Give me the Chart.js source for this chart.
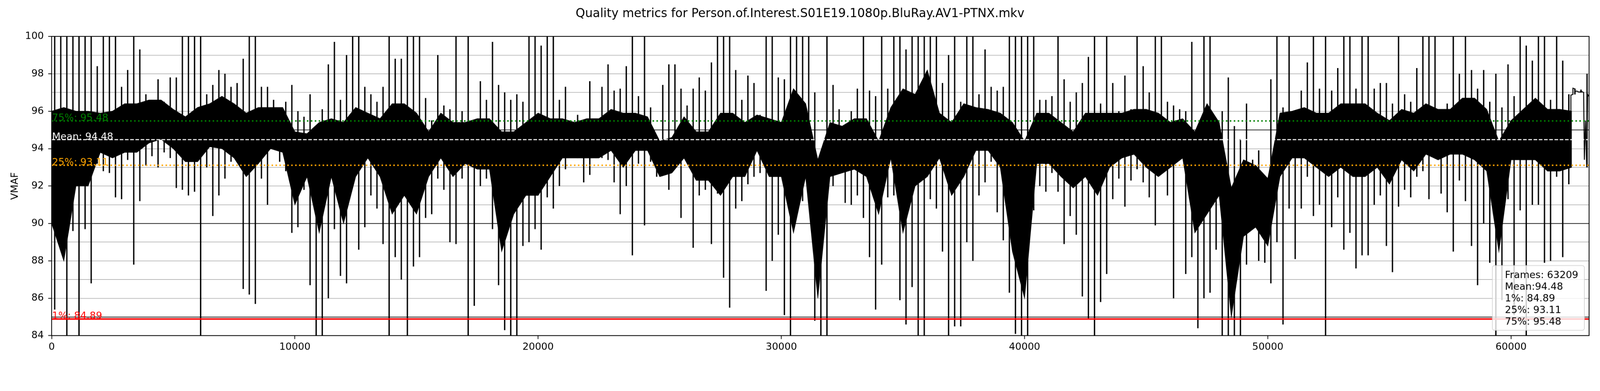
<!DOCTYPE html>
<html>
<head>
<meta charset="utf-8">
<style>html,body{margin:0;padding:0;background:#fff;overflow:hidden}#wrap{width:4400px;height:1000px;transform-origin:0 0}</style>
<script src="https://cdn.jsdelivr.net/npm/chart.js@4.4.1/dist/chart.umd.min.js"></script>
</head>
<body>
<div id="wrap"><canvas id="c" width="4400" height="1000"></canvas></div>
<script>
// ---------------- data ----------------
const TITLE = 'Quality metrics for Person.of.Interest.S01E19.1080p.BluRay.AV1-PTNX.mkv';
const TOTAL_FRAMES = 63209;
const BIN = 250;           // frames per envelope bin
// highest / lowest VMAF reached inside each 250-frame bin
const peakHi = [
  100, 100, 100, 100, 100, 100, 100, 98.4, 100, 100,
  100, 97.3, 98.2, 100, 99.3, 96.9, 96.6, 97.7, 96.5, 97.8,
  97.8, 100, 100, 100, 100, 96.9, 97.4, 98.2, 98, 97.3,
  97.5, 98.8, 100, 100, 97.3, 97.3, 96.6, 96.2, 96.5, 97.4,
  96, 95.7, 96.9, 94, 96.1, 98.5, 99.7, 96.6, 99, 100,
  100, 97.3, 96.9, 96.5, 97.3, 100, 98.8, 98.8, 100, 100,
  100, 96.7, 95.5, 99, 96.3, 96.1, 100, 96, 100, 95.3,
  97.6, 96.6, 99.7, 97.4, 97, 96.6, 96.9, 96.5, 100, 100,
  99.5, 100, 100, 96.6, 97.3, 95.1, 95.8, 95.5, 97.6, 95,
  97.3, 98.5, 97.1, 97.2, 98.4, 100, 96.8, 100, 96.2, 94.2,
  97.4, 98.5, 98.5, 97.2, 96.3, 97.2, 97.8, 97.1, 98.6, 100,
  100, 100, 98.2, 96.6, 97.9, 97.5, 95.8, 100, 100, 97.8,
  97.7, 100, 100, 100, 100, 97, 92.8, 100, 97.4, 96.1,
  95, 96, 97.2, 100, 97.1, 96.8, 100, 97.2, 100, 100,
  99.3, 100, 100, 100, 100, 100, 97.5, 99, 100, 96.5,
  100, 100, 96.9, 99.3, 97.3, 97.1, 97.3, 100, 100, 100,
  100, 100, 96.6, 96.6, 96.8, 100, 97.7, 96.5, 97, 97.5,
  98.9, 100, 96.4, 100, 97.5, 96, 97.9, 96.1, 100, 98.4,
  97, 100, 100, 96.5, 96.3, 96.1, 96, 99.7, 95.1, 100,
  100, 95.2, 96, 97.8, 95.2, 94.5, 96.4, 93.4, 93.9, 92.1,
  97.7, 100, 96.2, 100, 95.9, 97.1, 98.6, 100, 97.2, 100,
  97.1, 98.3, 100, 100, 97.2, 100, 100, 97.2, 97.5, 97.5,
  96.4, 100, 96.9, 96.5, 98.3, 100, 100, 100, 96, 96.4,
  100, 98, 100, 98.2, 97.2, 98.2, 96.5, 98, 96.2, 98.5,
  96.8, 100, 99.5, 98.7, 100, 100, 96.6, 100, 98.7, 96.9,
  97.2, 97.15, 98
];
const peakLo = [
  85.4, 88.9, 83.5, 89.6, 83, 89.7, 86.8, 93.2, 92.8, 92.7,
  91.4, 91.3, 93.4, 87.8, 91.2, 93.1, 93.6, 93.0, 93.8, 93.5,
  91.9, 91.8, 91.5, 91.7, 83, 93, 90.4, 91.5, 92.4, 93.3,
  93.3, 86.5, 86.2, 85.7, 92.4, 91, 94, 93.3, 92.8, 89.5,
  89.8, 91.8, 86.7, 83, 83, 86, 89.7, 87.2, 86.8, 92.4,
  88.6, 89.8, 91.5, 90.8, 88.9, 83, 88.2, 87, 83, 87.7,
  88.2, 90.3, 90.5, 92.4, 91.8, 89, 88.9, 92.4, 83.5, 85.6,
  92, 92.4, 89.7, 86.7, 84.3, 83, 83, 88.8, 89, 89.7,
  88.6, 91.4, 90.8, 92, 92.9, 93.9, 93.5, 92.2, 92.6, 93.5,
  93.5, 93.4, 92.2, 90.5, 92, 88.3, 93.2, 89.9, 93.3, 92.5,
  92.6, 91.8, 93, 90.3, 93.9, 88.7, 91.5, 91.8, 88.9, 91.6,
  87.1, 85.5, 90.8, 91.2, 92.1, 92.5, 92.7, 86.4, 88, 89.4,
  85.1, 83, 90.5, 91.2, 91.5, 84.8, 83, 83, 92, 93.6,
  91.1, 91, 91.5, 90.3, 88.2, 85.4, 87.8, 91.4, 91.5, 85.9,
  84.6, 86.6, 83, 83, 91.3, 90.8, 88.5, 83, 84.5, 84.5,
  89, 88, 91.5, 92.2, 93.3, 90.6, 89.1, 86.3, 84.1, 83,
  83, 90.7, 92, 91.7, 92.7, 91.7, 88.9, 90.4, 89.4, 86.1,
  84.9, 83, 85.8, 87.3, 91.3, 92.4, 90.9, 92.3, 92.9, 92.2,
  91.4, 89.9, 92.7, 91.5, 86, 93.5, 87.3, 88.2, 84.4, 86,
  86.3, 88.6, 83, 83, 83, 83, 87.8, 90, 88, 87.9,
  86.8, 89, 84.6, 90.8, 88.1, 90.8, 92.5, 90.4, 91, 83,
  89.8, 91.4, 88.6, 89.5, 87.6, 88.3, 88.3, 91, 91.5, 88.8,
  87.4, 90.9, 91.8, 91.4, 92.5, 92.8, 91.3, 93.5, 91.6, 90.6,
  88.5, 92.3, 91.2, 88.8, 86.7, 90, 87.9, 83, 85.9, 91.3,
  85.1, 90.7, 83, 91, 91, 87.9, 88, 92.5, 88.2, 92.1,
  96.9, 97, 93
];
const CORE_STEP = 500;     // frames between dense-band samples
// upper / lower edge of the dense (mostly black) band, every 500 frames
const coreHi = [
  96, 96.2, 96, 96, 95.9, 96, 96.4, 96.4, 96.6, 96.6,
  96.1, 95.7, 96.2, 96.4, 96.8, 96.4, 95.9, 96.2, 96.2, 96.2,
  94.9, 94.8, 95.4, 95.6, 95.4, 96.2, 95.9, 95.6, 96.4, 96.4,
  95.9, 94.9, 95.9, 95.4, 95.4, 95.6, 95.6, 94.9, 94.9, 95.4,
  95.9, 95.6, 95.6, 95.4, 95.6, 95.6, 96.1, 95.9, 95.9, 95.7,
  94.4, 94.6, 95.7, 94.9, 94.9, 95.9, 95.9, 95.4, 95.8, 95.6,
  95.4, 97.2, 96.4, 93.4, 95.4, 95.2, 95.6, 95.6, 94.4, 96.2,
  97.2, 96.9, 98.2, 95.9, 95.4, 96.4, 96.2, 96.1, 95.9, 95.4,
  94.4, 95.9, 95.9, 95.4, 94.9, 95.9, 95.9, 95.9, 95.9, 96.1,
  96.1, 95.9, 95.4, 95.6, 94.9, 96.4, 95.4, 91.9, 93.4, 93.1,
  92.4, 95.9, 96, 96.2, 95.9, 95.9, 96.4, 96.4, 96.4, 95.9,
  95.5, 96.1, 95.9, 96.4, 96.1, 96.1, 96.7, 96.7, 96.1, 94.4,
  95.5, 96.1, 96.7, 96.1, 96.1, 96.0, null
];
const coreLo = [
  90, 88, 92, 92, 93.8, 93.5, 93.8, 93.8, 94.3, 94.5,
  94, 93.3, 93.3, 94.1, 94, 93.5, 92.5, 93.2, 94, 93.8,
  91, 92.5, 89.5, 92.5, 90, 92.5, 93.5, 92.5, 90.5, 91.5,
  90.5, 92.5, 93.5, 92.5, 93.2, 92.9, 92.9, 88.5, 90.5, 91.5,
  91.5, 92.5, 93.5, 93.5, 93.5, 93.5, 93.9, 93, 93.9, 93.9,
  92.5, 92.7, 93.5, 92.3, 92.3, 91.5, 92.5, 92.5, 93.9, 92.5,
  92.5, 89.5, 92.5, 86, 92.5, 92.7, 92.9, 92.5, 90.5, 93.5,
  89.5, 92, 92.5, 93.5, 91.5, 92.5, 93.9, 93.9, 93, 88.5,
  86, 93.2, 93.2, 92.5, 91.9, 92.5, 91.5, 93, 93.5, 93.7,
  93, 92.5, 93, 93.5, 89.5, 90.5, 91.5, 85, 89.3, 89.8,
  88.8, 92.5, 93.5, 93.5, 93, 92.5, 93, 92.5, 92.5, 93,
  92.1, 93.4, 92.8, 93.7, 93.4, 93.7, 93.7, 93.4, 92.8, 88.5,
  93.4, 93.4, 93.4, 92.8, 92.8, 93.0, null
];
// the calm stretch near the end of the episode (frame, VMAF)
const tailFrames = [62000, 62250, 62400, 62450, 62460, 62540, 62545, 62615, 62625, 62700, 62800, 62900, 62985, 63015, 63060, 63110, 63150, 63190];
const tailValues = [95.0, 94.6, 95.4, 95.8, 96.86, 96.9, 97.23, 97.2, 97.05, 97.08, 97.02, 97.06, 97.0, 93.4, 95.5, 93.0, 96.9, 96.8];
// summary statistics
const statNames  = ['1%', '25%', 'Mean', '75%'];
const statValues = [84.89, 93.11, 94.48, 95.48];
// axis ticks
const xTicks = [0, 10000, 20000, 30000, 40000, 50000, 60000];
const yTicks = [84, 86, 88, 90, 92, 94, 96, 98, 100];

// ---------------- page scale (map 4400 design px to the real viewport) ----------------
(function () {
  const s = (window.innerWidth || 4400) / 4400;
  if (Math.abs(s - 1) > 0.001) document.getElementById('wrap').style.transform = 'scale(' + s + ')';
})();

// ---------------- styling ----------------
const FONT = '"DejaVu Sans", "Liberation Sans", sans-serif';
const statColors = ['#ff0000', '#ffa500', '#ffffff', '#008000'];
const statWidths = [4.3, 4.1, 2.7, 4.1];
const statDash   = [[], [4.1, 6.7], [10, 4.4], [4.1, 6.7]];

// one vertical stroke per bin spanning its low..high range
const spikes = peakHi.map((h, i) => ({ x: i * BIN + BIN / 2, y: [peakLo[i], h] }));
const coreHiPts = coreHi.map((v, i) => ({ x: i * CORE_STEP, y: v }));
const coreLoPts = coreLo.map((v, i) => ({ x: i * CORE_STEP, y: v }));
const tailPts = tailFrames.map((f, i) => ({ x: f, y: tailValues[i] }));

const statSets = statValues.map((v, i) => ({
  type: 'line',
  label: statNames[i],
  data: [{ x: 0, y: v }, { x: TOTAL_FRAMES, y: v }],
  borderColor: statColors[i],
  borderWidth: statWidths[i],
  borderDash: statDash[i],
  borderCapStyle: 'butt',
  pointRadius: 0,
  fill: false,
  order: 1,
  clip: 0
}));

const overlay = {
  id: 'overlay',
  afterDatasetsDraw(chart) {
    const { ctx, chartArea: a, scales: { x, y } } = chart;
    ctx.save();
    // inline stat labels
    ctx.font = '27px ' + FONT;
    ctx.textAlign = 'left';
    ctx.textBaseline = 'alphabetic';
    [3, 2, 1, 0].forEach(i => {
      ctx.fillStyle = statColors[i];
      ctx.fillText(statNames[i] + ': ' + statValues[i].toFixed(2), x.getPixelForValue(0) + 1, y.getPixelForValue(statValues[i]));
    });
    // axes frame
    ctx.strokeStyle = '#000';
    ctx.lineWidth = 2.2;
    ctx.strokeRect(a.left, a.top, a.right - a.left, a.bottom - a.top);
    // legend box
    const bw = 253, bh = 178;
    const bx = a.right - 13 - bw, by = a.bottom - 14.5 - bh;
    ctx.beginPath();
    if (ctx.roundRect) ctx.roundRect(bx, by, bw, bh, 6); else ctx.rect(bx, by, bw, bh);
    ctx.fillStyle = 'rgba(255,255,255,0.8)';
    ctx.fill();
    ctx.strokeStyle = 'rgba(204,204,204,0.8)';
    ctx.lineWidth = 2;
    ctx.stroke();
    const legendLines = [
      'Frames: ' + TOTAL_FRAMES,
      'Mean:' + statValues[2].toFixed(2),
      '1%: ' + statValues[0].toFixed(2),
      '25%: ' + statValues[1].toFixed(2),
      '75%: ' + statValues[3].toFixed(2)
    ];
    ctx.fillStyle = '#000';
    ctx.font = '27px ' + FONT;
    legendLines.forEach((t, k) => ctx.fillText(t, bx + 34.5, by + 34.5 + k * 32.1));
    // figure title
    ctx.textAlign = 'center';
    ctx.font = '33px ' + FONT;
    ctx.fillText(TITLE, chart.width / 2, 47);
    ctx.restore();
  }
};

new Chart(document.getElementById('c'), {
  type: 'line',
  data: {
    datasets: [
      ...statSets,
      { type: 'line', label: 'VMAF tail', data: tailPts, borderColor: '#000', borderWidth: 2.6,
        pointRadius: 0, fill: false, order: 4, clip: 0 },
      { type: 'bar', label: 'VMAF', data: spikes, backgroundColor: '#000', borderWidth: 0,
        barThickness: 3, grouped: false, order: 5, clip: 0 },
      { type: 'line', label: 'band-top', data: coreHiPts, borderColor: '#000', borderWidth: 1.5, backgroundColor: '#000',
        pointRadius: 0, fill: '+1', order: 6, clip: 0, spanGaps: false },
      { type: 'line', label: 'band-bottom', data: coreLoPts, borderColor: '#000', borderWidth: 1.5,
        pointRadius: 0, fill: false, order: 7, clip: 0, spanGaps: false }
    ]
  },
  options: {
    responsive: false,
    devicePixelRatio: 1,
    animation: false,
    events: [],
    layout: { padding: { left: 0, right: 30, top: 100, bottom: 0 } },
    elements: { line: { tension: 0 }, point: { radius: 0 } },
    plugins: { legend: { display: false }, tooltip: { enabled: false }, title: { display: false } },
    scales: {
      x: {
        type: 'linear', min: 0, max: TOTAL_FRAMES, offset: false,
        afterFit: s => { s.height = 78; },
        afterBuildTicks: s => { s.ticks = xTicks.map(v => ({ value: v })); },
        ticks: { autoSkip: false, maxRotation: 0, padding: 6, color: '#000',
                 font: { family: FONT, size: 27 }, callback: v => String(v) },
        grid: { offset: false, drawOnChartArea: false, drawTicks: true, tickLength: 9.5, tickWidth: 2, tickColor: '#000' },
        border: { display: false }
      },
      y: {
        type: 'linear', min: 84, max: 100, beginAtZero: false,
        afterFit: s => { s.width = 142; },
        ticks: { stepSize: 1, autoSkip: false, padding: 12, color: '#000',
                 font: { family: FONT, size: 27 },
                 callback: v => yTicks.includes(v) ? String(v) : '' },
        grid: {
          color: c => (c.tick && c.tick.value % 5 === 0) ? '#1a1a1a' : '#a6a6a6',
          lineWidth: c => (c.tick && c.tick.value % 5 === 0) ? 2 : 1.4,
          tickColor: c => (c.tick && yTicks.includes(c.tick.value)) ? '#000' : 'rgba(0,0,0,0)',
          tickLength: 9.5, tickWidth: 2
        },
        border: { display: false },
        title: { display: true, text: 'VMAF', color: '#000', font: { family: FONT, size: 27 },
                 padding: { top: 26, bottom: 0 } }
      }
    }
  },
  plugins: [overlay]
});
</script>
</body>
</html>
